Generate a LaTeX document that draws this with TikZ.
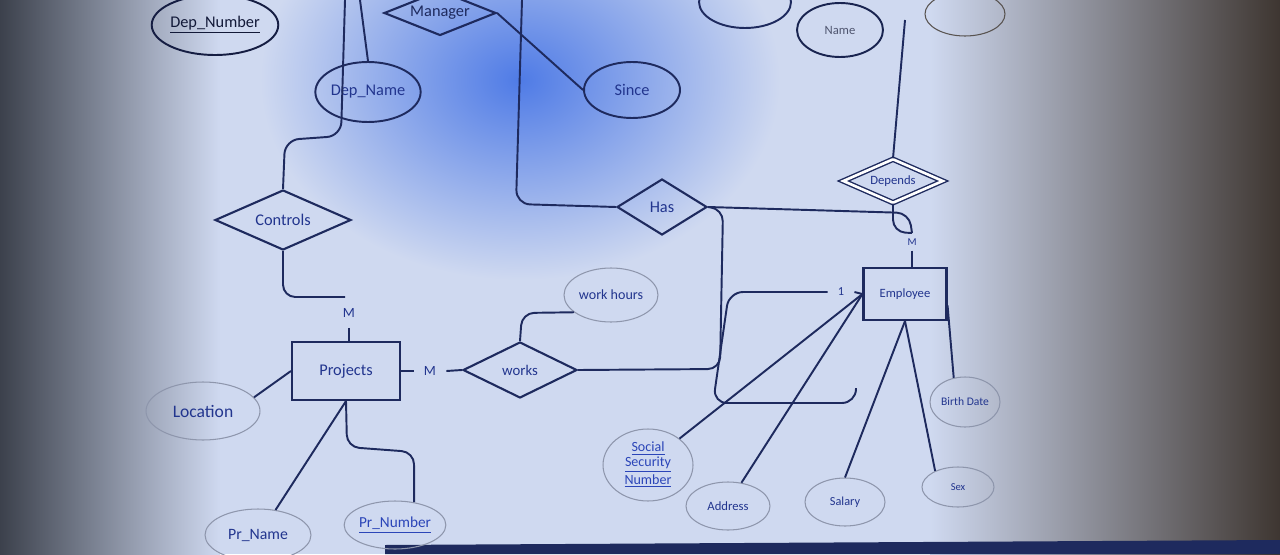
\documentclass[tikz,border=0pt]{standalone}
\usepackage{fontspec}
\setmainfont{Carlito}
\usetikzlibrary{shapes.geometric}

\definecolor{ink}{HTML}{1E2A5E}
\definecolor{txt}{HTML}{22358E}
\definecolor{keytxt}{HTML}{2B45B8}
\definecolor{pale}{HTML}{8E96AC}
\definecolor{screen}{HTML}{CFD9F0}
\definecolor{shadowl}{HTML}{3C414C}
\definecolor{shadowr}{HTML}{3E3631}
\definecolor{glow}{HTML}{4F7BE6}

\begin{document}
\begin{tikzpicture}[x=0.02cm, y=-0.02cm,
    every node/.style={text=txt, font=\fontsize{9.3}{10}\selectfont},
    conn/.style={draw=ink, line width=1.1pt},
    entity/.style={draw=ink, line width=1.2pt, rectangle, inner sep=0pt},
    rel/.style={draw=ink, line width=1.2pt, diamond, inner sep=0pt, shape aspect=2},
    attr/.style={draw=pale, line width=0.6pt, ellipse, inner sep=0pt},
    attrd/.style={draw=ink, line width=1.1pt, ellipse, inner sep=0pt},
    far/.style={font=\fontsize{7.2}{8}\selectfont},
    card/.style={inner sep=0.2cm, font=\fontsize{8}{9}\selectfont}]
  \def\ctop{0}

  % the photographed screen
  \useasboundingbox (0,0) rectangle (1280,554);
  \clip (0,0) rectangle (1280,554);
  \fill[screen] (0,0) rectangle (1280,554);
  \shade[left color=shadowl, right color=screen] (0,0) rectangle (220,554);
  \shade[inner color=glow, outer color=screen] (520,80) ellipse (260 and 200);
  \shade[left color=screen, right color=shadowr] (930,0) rectangle (1280,554);
  \fill[ink] (385,545) -- (1280,540) -- (1280,554) -- (385,554) -- cycle;

  % upper part
  \node[attrd, draw=ink!70!black, minimum width=2.4cm, minimum height=1.2cm, text=ink!60!black] (dnum) at (215,25) {\underline{Dep\_Number}};
  \node[attrd, minimum width=1.92cm, minimum height=1.2cm] (dname) at (368,92) {Dep\_Name};
  \node[rel, minimum width=2.24cm, minimum height=0.9cm, text=ink] (manager) at (440,13) {Manager};
  \node[attrd, minimum width=1.92cm, minimum height=1.12cm] (since) at (632,90) {Since};
  \node[attrd, minimum width=1.84cm, minimum height=1.04cm] (topa) at (745,2) {};
  \node[attrd, draw=ink!85!black, minimum width=1.72cm, minimum height=1.08cm, far, text=ink!50!gray] (name) at (840,30) {Name};
  \node[attrd, draw=shadowr!60!gray, line width=0.6pt, minimum width=1.6cm, minimum height=0.88cm] (topb) at (965,14) {};

  \node[rel, minimum width=2.72cm, minimum height=1.2cm] (controls) at (283,220) {Controls};
  \node[rel, minimum width=1.8cm, minimum height=1.12cm] (has) at (662,207) {Has};
  \node[rel, double, double distance=1.5pt, line width=0.8pt, minimum width=2.0cm, minimum height=0.88cm, far] (depends) at (893,181) {Depends};

  % entities and the rest
  \node[entity, minimum width=2.16cm, minimum height=1.16cm] (projects) at (346,371) {Projects};
  \node[entity, minimum width=1.66cm, minimum height=1.04cm, far] (employee) at (905,294) {Employee};
  \node[rel, minimum width=2.28cm, minimum height=1.12cm, font=\fontsize{8.4}{9}\selectfont] (works) at (520,370) {works};
  \node[attr, minimum width=1.88cm, minimum height=1.08cm, font=\fontsize{8}{9}\selectfont] (workh) at (611,295) {work hours};

  \node[attr, minimum width=2.28cm, minimum height=1.16cm, font=\fontsize{10}{11}\selectfont] (location) at (203,411) {Location};
  \node[attr, minimum width=2.12cm, minimum height=1.04cm, font=\fontsize{9}{10}\selectfont] (prname) at (258,535) {Pr\_Name};
  \node[attr, minimum width=2.0cm, minimum height=0.96cm, text=keytxt, font=\fontsize{8.7}{9}\selectfont] (prnum) at (395,525) {\underline{Pr\_Number}};

  \node[attr, minimum width=1.8cm, minimum height=1.44cm, align=center, text=keytxt, font=\fontsize{8}{8.5}\selectfont] (ssn) at (648,465) {\underline{Social}\\\underline{Security}\\\underline{Number}};
  \node[attr, minimum width=1.68cm, minimum height=0.96cm, far] (address) at (728,506) {Address};
  \node[attr, minimum width=1.6cm, minimum height=0.96cm, font=\fontsize{7}{8}\selectfont] (salary) at (845,502) {Salary};
  \node[attr, minimum width=1.44cm, minimum height=0.8cm, font=\fontsize{6}{7}\selectfont] (sex) at (958,487) {Sex};
  \node[attr, minimum width=1.4cm, minimum height=1.0cm, font=\fontsize{6.6}{7}\selectfont] (bdate) at (965,402) {Birth Date};

  % cardinalities
  \node[card] (mtop) at (349,313) {M};
  \node[card] (mright) at (430,371) {M};
  \node[card, font=\fontsize{7}{8}\selectfont] (one) at (841,292) {1};
  \node[inner sep=0.1cm, font=\fontsize{6}{7}\selectfont] (memp) at (912,242) {M};

  % free ends
  \coordinate (deptA) at (360,\ctop);
  \coordinate (deptB) at (345,\ctop);
  \coordinate (deptC) at (522,\ctop);
  \coordinate (dependent) at (905,20);
  \coordinate (ctrlend) at (345,297);
  \coordinate (join) at (912,233);
  \coordinate (loose) at (856,388);

  % connectors
  \draw[conn] (deptA) -- (dname.north);
  \draw[conn, rounded corners=8] (deptB) -- (341,136) -- (285,140) -- (controls.north);
  \draw[conn] (manager.east) -- (since.west);
  \draw[conn, rounded corners=8] (deptC) -- (516,204) -- (has.west);
  \draw[conn] (dependent) -- (depends.north);
  \draw[conn, rounded corners=7] (has.east) -- (909,213) -- (join);
  \draw[conn, rounded corners=7] (depends.south) -- (893,232) -- (join);
  \draw[conn] (memp.south) -- (memp.south |- employee.north);
  \draw[conn, rounded corners=7] (has.east) -- (723,209) -- (720,369) -- (works.east);
  \draw[conn] (one.east) -- (employee.west);
  \draw[conn, rounded corners=8] (one.west) -- (729,292) -- (713,403) -- (856,403) -- (loose);

  \draw[conn, rounded corners=7] (controls.south) -- (283,297) -- (ctrlend);
  \draw[conn] (mtop.south) -- (mtop.south |- projects.north);
  \draw[conn] (projects.east) -- (mright.west);
  \draw[conn] (mright.east) -- (works.west);
  \draw[conn, rounded corners=7] (works.north) -- (522,313) -- (workh.205);

  \draw[conn] (location.15) -- (projects.west);
  \draw[conn] (projects.south) -- (prname.55);
  \draw[conn, rounded corners=7] (projects.south) -- (347,447) -- (414,452) -- (prnum.50);

  \draw[conn] (ssn.40) -- (employee.west);
  \draw[conn] (address.60) -- (employee.west);
  \draw[conn] (employee.south) -- (salary.north);
  \draw[conn] (employee.south) -- (sex.145);
  \draw[conn] (employee.-15) -- (bdate.115);
\end{tikzpicture}
\end{document}
